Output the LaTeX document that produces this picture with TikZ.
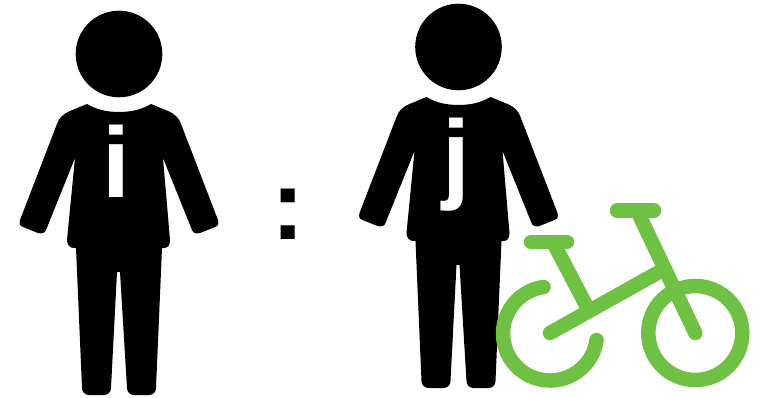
\documentclass[tikz,border=0pt]{standalone}
\usepackage{fontspec}
\setmainfont{Liberation Sans}
\definecolor{bikegreen}{HTML}{6FC144}
\tikzset{
  x=1pt,y=-1pt,
  bikeline/.style={draw=bikegreen,line width=14.5pt,line cap=round},
  letter/.style={text=white,font=\fontsize{100}{100}\selectfont\bfseries,inner sep=0pt,anchor=base},
  person/.pic={
    \fill (119,54) circle[radius=43.3];
    \fill (87,104) .. controls (97,110) and (108,112) .. (119,112)
      .. controls (130,112) and (141,110) .. (151,104)
      -- (168,111) .. controls (175,114) and (179,118) .. (181,124)
      -- (218,220) .. controls (219,224) and (218,226) .. (215,227)
      -- (200,233) .. controls (196,234) and (193,233) .. (192,230)
      -- (163,158) -- (170,240) .. controls (170,245) and (168,248) .. (164,248)
      -- (162,248) -- (156,388) .. controls (156,392) and (153,395) .. (149,395)
      -- (134,395) .. controls (130,395) and (127,392) .. (127,388)
      -- (120,272) -- (117,272) -- (111,388) .. controls (111,392) and (108,395) .. (104,395)
      -- (89,395) .. controls (85,395) and (82,392) .. (82,388)
      -- (76,248) -- (74,248) .. controls (70,248) and (67,245) .. (67,240)
      -- (75,158) -- (46,230) .. controls (45,233) and (42,234) .. (38,233)
      -- (23,227) .. controls (20,226) and (19,224) .. (20,220)
      -- (57,124) .. controls (59,118) and (63,114) .. (70,111) -- cycle;
  }
}
\begin{document}
\begin{tikzpicture}
\useasboundingbox (0,0) rectangle (768,398);
\pic (left) at (0,0) {person};
\pic (right) at (339.5,-7) {person};
\node[letter] (i) at (116.5,198) {i};
\node[letter] (j) at (456,191) {j};
\node[inner sep=0pt,anchor=base,font=\fontsize{100}{100}\selectfont\bfseries] (colon) at (288,239) {:};
% bicycle
\coordinate (rear) at (550,333);
\coordinate (front) at (695.3,333);
\draw[bikeline] (543.5,287) arc[start angle=-98,end angle=-352,radius=47];
\draw[bikeline] (front) circle[radius=47];
\draw[bikeline] (rear) -- (659,272);
\draw[bikeline] (637,210.5) -- (front);
\draw[bikeline] (553,242) -- (587,307);
\draw[bikeline] (531,242) -- (567,242);
\draw[bikeline] (617,210.5) -- (654,210.5);
\end{tikzpicture}
\end{document}
